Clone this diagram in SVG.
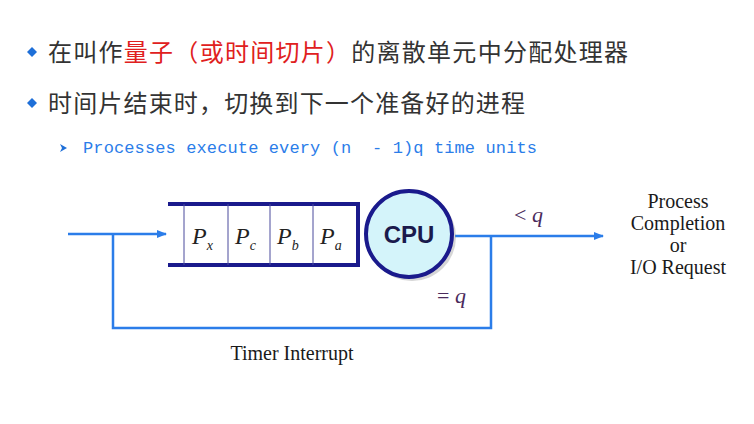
<svg xmlns="http://www.w3.org/2000/svg" width="754" height="424" viewBox="0 0 754 424">
<style>
.cn{font-family:"Noto Sans CJK SC",sans-serif;font-size:24px;fill:#333}
.ln{stroke:#2b7de9;stroke-width:2.5;fill:none}
.p{font-family:"Liberation Serif",serif;font-style:italic;font-size:24px;fill:#222}
.s{font-size:14px}
.lbl{font-family:"Liberation Serif",serif;font-size:20px;fill:#1a1a1a}
</style>
<defs><marker id="a" markerWidth="10" markerHeight="8" refX="9" refY="4" orient="auto" markerUnits="userSpaceOnUse"><path d="M0,0L10,4L0,8z" fill="#2b7de9"/></marker></defs>
<rect width="754" height="424" fill="#fff"/>
<g id="text">
<path d="M27,52l5,-5l5,5l-5,5z" fill="#1e6fd8"/>
<text x="48" y="61" class="cn" textLength="580">在叫作<tspan fill="#e02020">量子（或时间切片）</tspan>的离散单元中分配处理器</text>
<path d="M27,103l5,-5l5,5l-5,5z" fill="#1e6fd8"/>
<text x="48" y="112" class="cn" textLength="477">时间片结束时，切换到下一个准备好的进程</text>
<path d="M60,144l7,4l-7,4l2,-4z" fill="#1e6fd8"/>
<text x="83" y="153" font-family="Liberation Mono,monospace" font-size="17" fill="#2b7de9" xml:space="preserve" textLength="454">Processes execute every (n  - 1)q time units</text>
</g>
<g id="connectors">
<line x1="68" y1="234" x2="166" y2="234" class="ln" marker-end="url(#a)"/>
<polyline points="113,234 113,328 491,328 491,236" class="ln"/>
<line x1="455" y1="236" x2="603" y2="236" class="ln" marker-end="url(#a)"/>
</g>
<g id="queue">
<line x1="168" y1="204" x2="360" y2="204" stroke="#1a1a8c" stroke-width="4"/>
<line x1="168" y1="265" x2="360" y2="265" stroke="#1a1a8c" stroke-width="4"/>
<line x1="358" y1="202" x2="358" y2="267" stroke="#1a1a8c" stroke-width="4"/>
<g stroke="#4a4a9c" stroke-width="1"><line x1="184" y1="204" x2="184" y2="265"/><line x1="228" y1="204" x2="228" y2="265"/><line x1="270" y1="204" x2="270" y2="265"/><line x1="313" y1="204" x2="313" y2="265"/></g>
<text x="192" y="244" class="p">P<tspan class="s" dy="6">x</tspan></text>
<text x="235" y="244" class="p">P<tspan class="s" dy="6">c</tspan></text>
<text x="277" y="244" class="p">P<tspan class="s" dy="6">b</tspan></text>
<text x="320" y="244" class="p">P<tspan class="s" dy="6">a</tspan></text>
</g>
<g id="cpu">
<circle cx="412" cy="237" r="44" fill="#999" opacity="0.4"/>
<circle cx="409" cy="234" r="43" fill="#d4f4fa" stroke="#1a1a8c" stroke-width="4"/>
<text x="409" y="243" text-anchor="middle" font-family="Liberation Sans,sans-serif" font-weight="bold" font-size="24" fill="#1a1a4c">CPU</text>
</g>
<g id="labels">
<text x="514" y="222" font-family="Liberation Serif,serif" font-size="22" fill="#4a2a5c">&lt; <tspan font-style="italic">q</tspan></text>
<text x="437" y="303" font-family="Liberation Serif,serif" font-size="22" fill="#4a2a5c">= <tspan font-style="italic">q</tspan></text>
<text text-anchor="middle" class="lbl"><tspan x="678" y="208">Process</tspan><tspan x="678" y="230">Completion</tspan><tspan x="678" y="252">or</tspan><tspan x="678" y="274">I/O Request</tspan></text>
<text x="292" y="360" text-anchor="middle" class="lbl">Timer Interrupt</text>
</g>
</svg>
